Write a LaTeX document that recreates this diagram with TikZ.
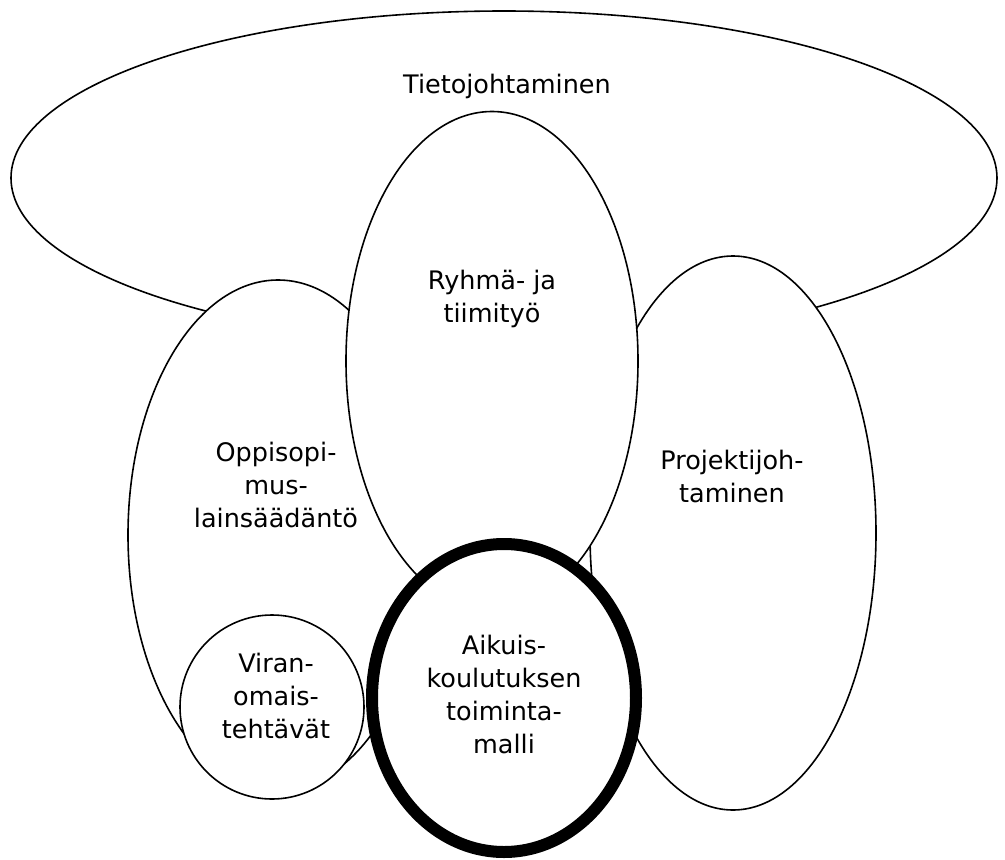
\documentclass[tikz,border=0pt]{standalone}
\usepackage{fontspec}
\setmainfont{DejaVu Sans}
\usetikzlibrary{shapes.geometric}
\begin{document}
\begin{tikzpicture}[x=1pt,y=-1pt,
  area/.style={ellipse,draw=black,fill=white,line width=1.6pt,inner sep=0pt},
  core/.style={area,line width=12pt},
  caption/.style={align=center,inner sep=0pt,anchor=base,
    font=\fontsize{25.5}{33}\selectfont}]
  \useasboundingbox (0,0) rectangle (1005,860);
  % overlapping topic areas, back to front
  \node[area,minimum width=986pt,minimum height=334pt] (tieto) at (504,178) {};
  \node[area,minimum width=300pt,minimum height=510pt] (oppi) at (278,535) {};
  \node[area,minimum width=286pt,minimum height=554pt] (proj) at (733,533) {};
  \node[area,minimum width=292pt,minimum height=499pt] (ryhma) at (492,361) {};
  \node[area,circle,minimum size=184pt] (viran) at (272,707) {};
  \node[core,minimum width=264pt,minimum height=308pt] (aikuis) at (504,698) {};
  % captions, placed by the baseline of their last line
  \node[caption] (tTieto) at (507,93) {Tietojohtaminen};
  \node[caption] (tRyhma) at (492,322) {Ryhmä- ja\\tiimityö};
  \node[caption] (tOppi) at (276,527) {Oppisopi-\\mus-\\lainsäädäntö};
  \node[caption] (tProj) at (732,502) {Projektijoh-\\taminen};
  \node[caption] (tViran) at (276,738) {Viran-\\omais-\\tehtävät};
  \node[caption] (tAikuis) at (504,753) {Aikuis-\\koulutuksen\\toiminta-\\malli};
\end{tikzpicture}
\end{document}
